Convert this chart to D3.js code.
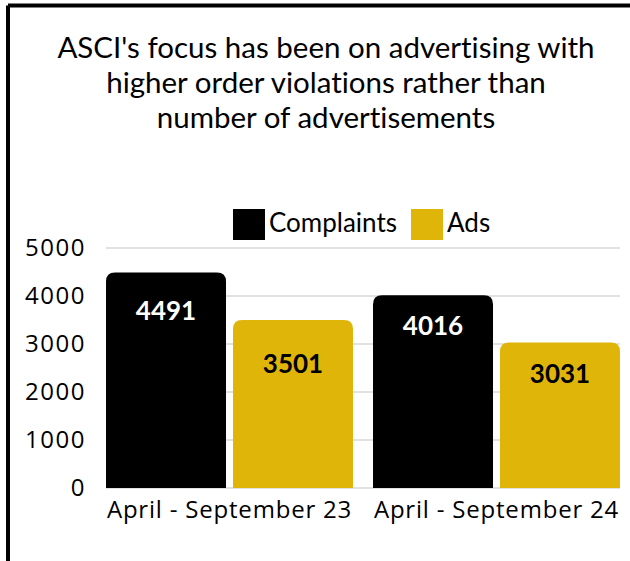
<!DOCTYPE html>
<html>
<head>
<meta charset="utf-8">
<script src="https://cdn.jsdelivr.net/npm/d3@7"></script>
<style>
  body { margin: 0; background: #fff; }
  svg { display: block; }
  text { font-variant-ligatures: none; }
</style>
</head>
<body>
<div id="chart"></div>
<script>
const periods = ["April - September 23", "April - September 24"]
const seriesNames = ["Complaints", "Ads"]
const complaints = [4491, 4016]
const ads = [3501, 3031]
const yTicks = [0, 1000, 2000, 3000, 4000, 5000]
const titleLines = ["ASCI's focus has been on advertising with",
                    "higher order violations rather than",
                    "number of advertisements"]

const colors = { Complaints: "#000000", Ads: "#e0b50a" }
const labelColors = { Complaints: "#ffffff", Ads: "#000000" }
// label offset below bar top, per period / series (layout only)
const labelDy = [{ Complaints: 48, Ads: 53 }, { Complaints: 40, Ads: 40 }]

const width = 630, height = 561

const svg = d3.select("#chart")
              .append("svg")
              .attr("width", width)
              .attr("height", height)

// frame (top + left edges visible)
svg.append("path")
   .attr("d", "M8,5.5 H632 M8,5.5 V565")
   .attr("stroke", "#000")
   .attr("stroke-width", 4)
   .attr("fill", "none")

// title
svg.append("g")
   .selectAll("text")
   .data(titleLines)
   .enter()
   .append("text")
   .attr("x", 326)
   .attr("y", (d, i) => 58 + i * 35)
   .attr("text-anchor", "middle")
   .attr("font-family", "Lato, sans-serif")
   .attr("font-size", 29.5)
   .attr("fill", "#000")
   .text(d => d)

const rows = periods.map((p, i) => ({ idx: i, period: p, Complaints: complaints[i], Ads: ads[i] }))

const y = d3.scaleLinear()
            .domain([0, 5000])
            .range([488, 248])

const x0 = d3.scaleBand()
             .domain(periods)
             .range([96, 630])
             .paddingInner(0.075)
             .paddingOuter(0.0375)

const x1 = d3.scaleBand()
             .domain(seriesNames)
             .range([0, x0.bandwidth()])
             .paddingInner(0.055)

// gridlines
svg.append("g")
   .selectAll("line")
   .data(yTicks)
   .enter()
   .append("line")
   .attr("x1", x0(periods[0]))
   .attr("x2", x0(periods[1]) + x0.bandwidth())
   .attr("y1", d => y(d))
   .attr("y2", d => y(d))
   .attr("stroke", "#d9d9d9")
   .attr("stroke-width", 1.5)

// y axis labels
const axisY = d3.axisLeft(y).tickValues(yTicks).tickSize(0).tickPadding(0).tickFormat(d3.format("d"))
const gY = svg.append("g")
              .attr("transform", "translate(86,0)")
              .call(axisY)
gY.select(".domain").remove()
gY.selectAll("text")
  .attr("font-family", "'Open Sans', sans-serif")
  .attr("font-size", 24)
  .attr("letter-spacing", 1.5)
  .attr("fill", "#000")

// x axis labels
const axisX = d3.axisBottom(x0).tickSize(0).tickPadding(0)
const gX = svg.append("g")
              .attr("transform", "translate(0,501)")
              .call(axisX)
gX.select(".domain").remove()
gX.selectAll("text")
  .attr("font-family", "'Open Sans', sans-serif")
  .attr("font-size", 24)
  .attr("letter-spacing", 0.8)
  .attr("fill", "#000")

// bars with rounded top corners
function topRounded(x, yTop, w, h, r) {
  return `M${x},${yTop + h} V${yTop + r} Q${x},${yTop} ${x + r},${yTop} H${x + w - r} Q${x + w},${yTop} ${x + w},${yTop + r} V${yTop + h} Z`
}

const groups = svg.append("g")
                  .selectAll("g")
                  .data(rows)
                  .enter()
                  .append("g")
                  .attr("transform", d => `translate(${x0(d.period)},0)`)

const cells = groups.selectAll("g")
                    .data(d => seriesNames.map(k => ({ key: k, value: d[k], idx: d.idx })))
                    .enter()
                    .append("g")

cells.append("path")
     .attr("d", d => topRounded(x1(d.key), y(d.value), x1.bandwidth(), y(0) - y(d.value), 9))
     .attr("fill", d => colors[d.key])

cells.append("text")
     .attr("x", d => x1(d.key) + x1.bandwidth() / 2)
     .attr("y", d => y(d.value) + labelDy[d.idx][d.key])
     .attr("text-anchor", "middle")
     .attr("font-family", "Lato, sans-serif")
     .attr("font-weight", "bold")
     .attr("font-size", 26)
     .attr("fill", d => labelColors[d.key])
     .text(d => d.value)

// legend
const legend = svg.append("g")
const legendX = [233, 411]
seriesNames.forEach((k, i) => {
  legend.append("rect")
        .attr("x", legendX[i])
        .attr("y", 209)
        .attr("width", 32)
        .attr("height", 31)
        .attr("fill", colors[k])
  legend.append("text")
        .attr("x", legendX[i] + 36)
        .attr("y", 232)
        .attr("font-family", "Lato, sans-serif")
        .attr("font-size", 26)
        .attr("fill", "#000")
        .text(k)
})
</script>
</body>
</html>
